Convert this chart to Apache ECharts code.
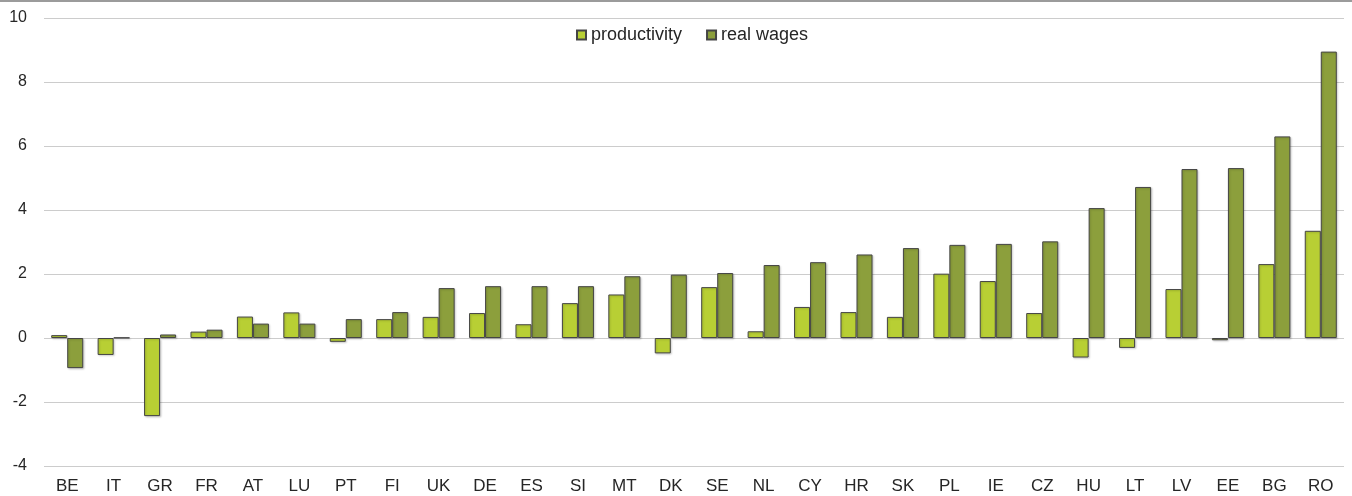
<!DOCTYPE html>
<html>
<head>
<meta charset="utf-8">
<style>
  html, body { margin: 0; padding: 0; background: #ffffff; }
  #chart { width: 1352px; height: 496px; }
</style>
<script src="https://cdn.jsdelivr.net/npm/echarts@6/dist/echarts.min.js"></script>
</head>
<body>
<div id="chart"></div>
<script>
// Countries ordered by real wage growth
const countries = ['BE','IT','GR','FR','AT','LU','PT','FI','UK','DE','ES','SI','MT','DK','SE','NL','CY','HR','SK','PL','IE','CZ','HU','LT','LV','EE','BG','RO'];

// Annual growth, %
const productivity = [0.09, -0.53, -2.44, 0.20, 0.67, 0.80, -0.12, 0.59, 0.66, 0.78, 0.43, 1.09, 1.36, -0.48, 1.59, 0.21, 0.97, 0.81, 0.66, 2.01, 1.78, 0.78, -0.61, -0.31, 1.53, -0.07, 2.31, 3.35];
const realWages    = [-0.94, 0.01, 0.11, 0.26, 0.45, 0.45, 0.59, 0.81, 1.56, 1.62, 1.62, 1.62, 1.93, 1.98, 2.03, 2.28, 2.37, 2.61, 2.81, 2.91, 2.94, 3.02, 4.06, 4.72, 5.28, 5.31, 6.30, 8.95];

const yTicks = { min: -4, max: 10, interval: 2 };

const chart = echarts.init(document.getElementById('chart'), null, { renderer: 'canvas' });

const barStyle = (color) => ({
  color: color,
  borderColor: '#454545',
  borderWidth: 1,
  shadowColor: 'rgba(0,0,0,0.18)',
  shadowBlur: 2,
  shadowOffsetX: 1,
  shadowOffsetY: 1
});

chart.setOption({
  animation: false,
  backgroundColor: '#ffffff',
  textStyle: { fontFamily: 'Liberation Sans, Arial, sans-serif', color: '#262626' },
  graphic: [{
    type: 'line',
    shape: { x1: 0, y1: 1, x2: 1352, y2: 1 },
    style: { stroke: '#7a7a7a', lineWidth: 1.5 },
    silent: true
  }],
  legend: {
    left: 571,
    top: 21,
    itemWidth: 9,
    itemHeight: 9,
    itemGap: 24,
    icon: 'rect',
    textStyle: { fontSize: 18, color: '#262626' },
    data: ['productivity', 'real wages']
  },
  grid: { left: 44, right: 8, top: 18, bottom: 30, containLabel: false },
  xAxis: {
    type: 'category',
    data: countries,
    axisLine: { show: false, onZero: false },
    axisTick: { show: false },
    axisLabel: { fontSize: 17, color: '#262626', margin: 12, interval: 0 },
    splitLine: { show: false }
  },
  yAxis: {
    type: 'value',
    min: yTicks.min,
    max: yTicks.max,
    interval: yTicks.interval,
    axisLine: { show: false },
    axisTick: { show: false },
    axisLabel: { fontSize: 16, color: '#262626', margin: 17 },
    splitLine: { show: true, lineStyle: { color: '#cccccc', width: 1 } }
  },
  series: [
    {
      name: 'productivity',
      type: 'bar',
      data: productivity,
      barGap: '0%',
      barCategoryGap: '31%',
      itemStyle: barStyle('#b8cf34')
    },
    {
      name: 'real wages',
      type: 'bar',
      data: realWages,
      barGap: '0%',
      barCategoryGap: '31%',
      itemStyle: barStyle('#8c9f3c')
    }
  ]
});
</script>
</body>
</html>
